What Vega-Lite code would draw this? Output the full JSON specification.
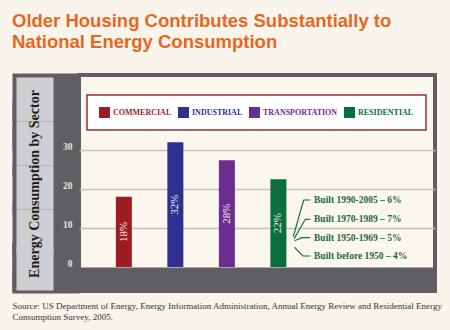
{
  "$schema": "https://vega.github.io/schema/vega-lite/v6.json",
  "width": 356,
  "height": 216,
  "autosize": {"type": "none"},
  "padding": {"left": 79, "top": 75, "right": 15, "bottom": 39},
  "background": "#f9f5ec",
  "title": {
    "text": ["Older Housing Contributes Substantially to", "National Energy Consumption"],
    "anchor": "start",
    "frame": "group",
    "dx": -67,
    "font": "Liberation Sans",
    "fontSize": 18.5,
    "fontWeight": "bold",
    "color": "#e8661e",
    "lineHeight": 20.5,
    "offset": 22
  },
  "config": {
    "view": {"fill": "#fbf7ef", "stroke": "#5f5f63", "strokeWidth": 4}
  },
  "datasets": {
    "sectors": [
      {"sector": "Commercial", "pos": 1, "share": 18, "label": "18%"},
      {"sector": "Industrial", "pos": 2, "share": 32, "label": "32%"},
      {"sector": "Transportation", "pos": 3, "share": 27.4, "label": "28%"},
      {"sector": "Residential", "pos": 4, "share": 22.5, "label": "22%"}
    ],
    "breakdown": [
      {"text": "Built 1990-2005 – 6%", "x": 4.692, "y": 17.18},
      {"text": "Built 1970-1989 – 7%", "x": 4.692, "y": 12.23},
      {"text": "Built 1950-1969 – 5%", "x": 4.692, "y": 7.51},
      {"text": "Built before 1950 – 4%", "x": 4.692, "y": 2.82}
    ],
    "connectors": [
      {"link": 1, "k": 0, "x": 4.289, "y": 7.77},
      {"link": 1, "k": 1, "x": 4.491, "y": 17.18},
      {"link": 1, "k": 2, "x": 4.617, "y": 17.18},
      {"link": 2, "k": 0, "x": 4.302, "y": 7.18},
      {"link": 2, "k": 1, "x": 4.523, "y": 12.23},
      {"link": 2, "k": 2, "x": 4.617, "y": 12.23},
      {"link": 3, "k": 0, "x": 4.315, "y": 6.74},
      {"link": 3, "k": 1, "x": 4.453, "y": 7.51},
      {"link": 3, "k": 2, "x": 4.617, "y": 7.51},
      {"link": 4, "k": 0, "x": 4.315, "y": 5.05},
      {"link": 4, "k": 1, "x": 4.477, "y": 2.82},
      {"link": 4, "k": 2, "x": 4.617, "y": 2.82}
    ]
  },
  "resolve": {"axis": {"y": "independent"}},
  "layer": [
    {
      "data": {"name": "sectors"},
      "mark": {"type": "bar", "size": 16, "orient": "vertical"},
      "encoding": {
        "x": {
          "field": "pos", "type": "quantitative",
          "scale": {"domain": [0.2264, 6.9434], "nice": false, "zero": false},
          "axis": null
        },
        "y": {
          "field": "share", "type": "quantitative",
          "scale": {"domain": [-6.154, 49.23], "nice": false, "zero": false},
          "axis": {
            "orient": "left", "offset": -356, "domain": false, "labels": false, "grid": false, "title": null,
            "values": [-3.08],
            "ticks": true, "tickSize": 423, "tickWidth": 24, "tickColor": "#5f5f63", "tickCap": "butt"
          }
        },
        "color": {
          "field": "sector", "type": "nominal",
          "scale": {"domain": ["Commercial", "Industrial", "Transportation", "Residential"], "range": ["#9d1c23", "#2f3192", "#6b2d90", "#0b6e3d"]},
          "legend": {
            "orient": "none", "legendX": 8, "legendY": 20, "direction": "horizontal", "title": null,
            "symbolType": "square", "symbolSize": 121, "symbolStrokeWidth": 0, "symbolOpacity": 1,
            "labelFont": "Liberation Serif", "labelFontSize": 8, "labelFontWeight": "bold", "labelOffset": 3,
            "columnPadding": 6, "padding": 12, "fillColor": "#ffffff", "strokeColor": "#a52a2f",
            "labelExpr": "upper(datum.label)",
            "encode": {
              "labels": {"update": {"fill": {"scale": "color", "field": "value"}}},
              "legend": {"update": {"strokeWidth": {"value": 1.5}}}
            }
          }
        }
      }
    },
    {
      "data": {"name": "sectors"},
      "mark": {"type": "text", "angle": 270, "font": "Liberation Serif", "fontSize": 11, "fill": "#f4f4f4", "align": "center", "baseline": "middle"},
      "encoding": {
        "x": {"field": "pos", "type": "quantitative", "scale": {"domain": [0.2264, 6.9434], "nice": false, "zero": false}, "axis": null},
        "y": {
          "field": "share", "type": "quantitative", "stack": "zero", "bandPosition": 0.5,
          "scale": {"domain": [-6.154, 49.23], "nice": false, "zero": false},
          "axis": {
            "orient": "left", "offset": 0, "domain": false,
            "values": [-0.25, 0, 10, 20, 30, 36.5, 43.33],
            "ticks": true, "tickSize": 67, "tickWidth": 50, "tickColor": "#5f5f63", "tickCap": "butt",
            "grid": true, "gridColor": "#c5c1b9", "gridWidth": 1.6,
            "gridOpacity": {"condition": {"test": "indexof([10, 20, 30], datum.value) >= 0", "value": 1}, "value": 0},
            "labelExpr": "indexof([0, 10, 20, 30], datum.value) >= 0 ? datum.label : ''",
            "labelPadding": -60, "labelAlign": "right", "labelBaseline": "alphabetic",
            "labelFont": "Liberation Serif", "labelFontSize": 9.5, "labelFontWeight": "bold", "labelColor": "#e6e6e6",
            "labelOverlap": false, "labelFlush": false, "labelBound": false,
            "title": ["Source: US Department of Energy, Energy Information Administration, Annual Energy Review and Residential Energy", "Consumption Survey, 2005."],
            "titleX": -67, "titleY": 233.5, "titleAngle": 0, "titleAlign": "left", "titleBaseline": "alphabetic",
            "titleFont": "Liberation Serif", "titleFontSize": 9, "titleFontWeight": "normal", "titleColor": "#333333", "titleLineHeight": 10.5
          }
        },
        "text": {"field": "label"}
      }
    },
    {
      "data": {"name": "connectors"},
      "mark": {"type": "line", "stroke": "#1b6a3a", "strokeWidth": 1.2},
      "encoding": {
        "x": {"field": "x", "type": "quantitative", "scale": {"domain": [0.2264, 6.9434], "nice": false, "zero": false}, "axis": null},
        "y": {
          "field": "y", "type": "quantitative",
          "scale": {"domain": [-6.154, 49.23], "nice": false, "zero": false},
          "axis": {
            "orient": "left", "offset": 26, "domain": false, "labels": false, "grid": false,
            "values": [-0.25, 9.23, 20.51, 31.8, 43.08],
            "ticks": true, "tickSize": 37, "tickWidth": 44, "tickColor": "#cfcfd3", "tickCap": "butt",
            "title": "Energy Consumption by Sector",
            "titleX": -18.5, "titleY": 108.5, "titleAngle": 270, "titleAlign": "center", "titleBaseline": "middle",
            "titleFont": "Liberation Serif", "titleFontSize": 14, "titleFontWeight": "bold", "titleColor": "#1c1c1c"
          }
        },
        "detail": {"field": "link", "type": "nominal"},
        "order": {"field": "k", "type": "quantitative"}
      }
    },
    {
      "data": {"name": "breakdown"},
      "mark": {"type": "text", "align": "left", "baseline": "middle", "font": "Liberation Serif", "fontSize": 9.5, "fontWeight": "bold", "fill": "#1b6a3a"},
      "encoding": {
        "x": {"field": "x", "type": "quantitative", "scale": {"domain": [0.2264, 6.9434], "nice": false, "zero": false}, "axis": null},
        "y": {"field": "y", "type": "quantitative", "scale": {"domain": [-6.154, 49.23], "nice": false, "zero": false}, "axis": null},
        "text": {"field": "text"}
      }
    }
  ]
}
